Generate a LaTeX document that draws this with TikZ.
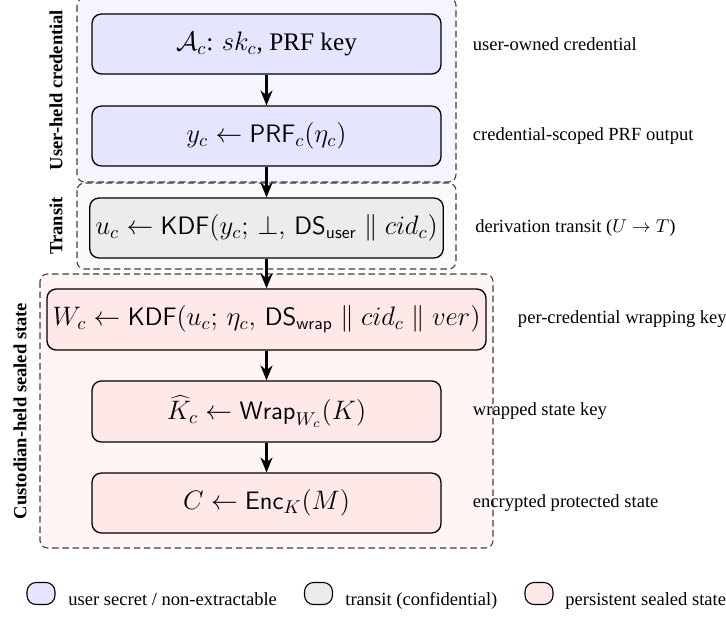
\documentclass[tikz,border=0pt]{standalone}
\usepackage{fontspec}
\setmainfont{Liberation Serif}
\usetikzlibrary{arrows.meta}
\begin{document}
\begin{tikzpicture}[x=0.5391pt,y=-0.5391pt,
  stepbox/.style={draw=black, line width=0.7pt, rounded corners=5pt, minimum height=32.3pt, minimum width=188.1pt, inner xsep=3pt, font=\fontsize{13.6}{16}\selectfont},
  userbox/.style={stepbox, fill=blue!10},
  transbox/.style={stepbox, fill=gray!15},
  sealbox/.style={stepbox, fill=red!9},
  grp/.style={draw=black!75, dash pattern=on 3.5pt off 2pt, line width=0.6pt, rounded corners=4pt},
  grplabel/.style={font=\bfseries, rotate=90, inner sep=0pt},
  note/.style={anchor=west, inner sep=0pt},
  flow/.style={-{Stealth[length=8pt,width=6.5pt,inset=2.5pt]}, line width=1.1pt},
  swatch/.style={draw=black, line width=0.6pt, rounded corners=5pt, minimum width=15.1pt, minimum height=11.9pt, inner sep=0pt},
  legtext/.style={anchor=base west, inner sep=0pt}
]
\useasboundingbox (0,0) rectangle (726,617);
\fill[white] (0,0) rectangle (726,617);

% groups
\draw[grp, fill=blue!4] (77,-2) rectangle (456,182);
\draw[grp, fill=gray!4] (77,183) rectangle (456,269);
\draw[grp, fill=red!4] (40,274) rectangle (493,548);

\node[grplabel] (l1) at (56,90) {User-held credential};
\node[grplabel] (l2) at (56,226) {Transit};
\node[grplabel] (l3) at (20,411) {Custodian-held sealed state};

% steps
\node[userbox] (a) at (266.5,44) {$\mathcal{A}_c$: $sk_c$, PRF key};
\node[userbox] (b) at (266.5,136) {$y_c \leftarrow \mathsf{PRF}_c(\eta_c)$};
\node[transbox] (c) at (266.5,228) {$u_c \leftarrow \mathsf{KDF}(y_c;\,\bot,\,\mathsf{DS}_{\mathsf{user}} \parallel cid_c)$};
\node[sealbox, minimum width=227pt, minimum height=32.9pt] (d) at (266.5,319.5) {$W_c \leftarrow \mathsf{KDF}(u_c;\,\eta_c,\,\mathsf{DS}_{\mathsf{wrap}} \parallel cid_c \parallel ver)$};
\node[sealbox, minimum height=32.9pt] (e) at (266.5,411.5) {$\widehat{K}_c \leftarrow \mathsf{Wrap}_{W_c}(K)$};
\node[sealbox] (f) at (266.5,503) {$C \leftarrow \mathsf{Enc}_K(M)$};

% notes
\node[note] (na) at ([xshift=16.7pt]a.east) {user-owned credential};
\node[note] (nb) at ([xshift=16.7pt]b.east) {credential-scoped PRF output};
\node[note] (nc) at ([xshift=16.7pt]c.east) {derivation transit ($U \to T$)};
\node[note] (nd) at ([xshift=16.7pt]d.east) {per-credential wrapping key};
\node[note] (ne) at ([xshift=16.7pt]e.east) {wrapped state key};
\node[note] (nf) at ([xshift=16.7pt]f.east) {encrypted protected state};

% flow
\draw[flow] (a.south) -- (b.north);
\draw[flow] (b.south) -- (c.north);
\draw[flow] (c.south) -- (d.north);
\draw[flow] (d.south) -- (e.north);
\draw[flow] (e.south) -- (f.north);

% legend
\node[swatch, fill=blue!10] (s1) at (41,593.5) {};
\node[legtext] (t1) at (68,605) {user secret / non-extractable};
\node[swatch, fill=gray!15] (s2) at (318.5,593.5) {};
\node[legtext] (t2) at (345,605) {transit (confidential)};
\node[swatch, fill=red!9] (s3) at (539,593.5) {};
\node[legtext] (t3) at (565,605) {persistent sealed state};
\end{tikzpicture}
\end{document}
